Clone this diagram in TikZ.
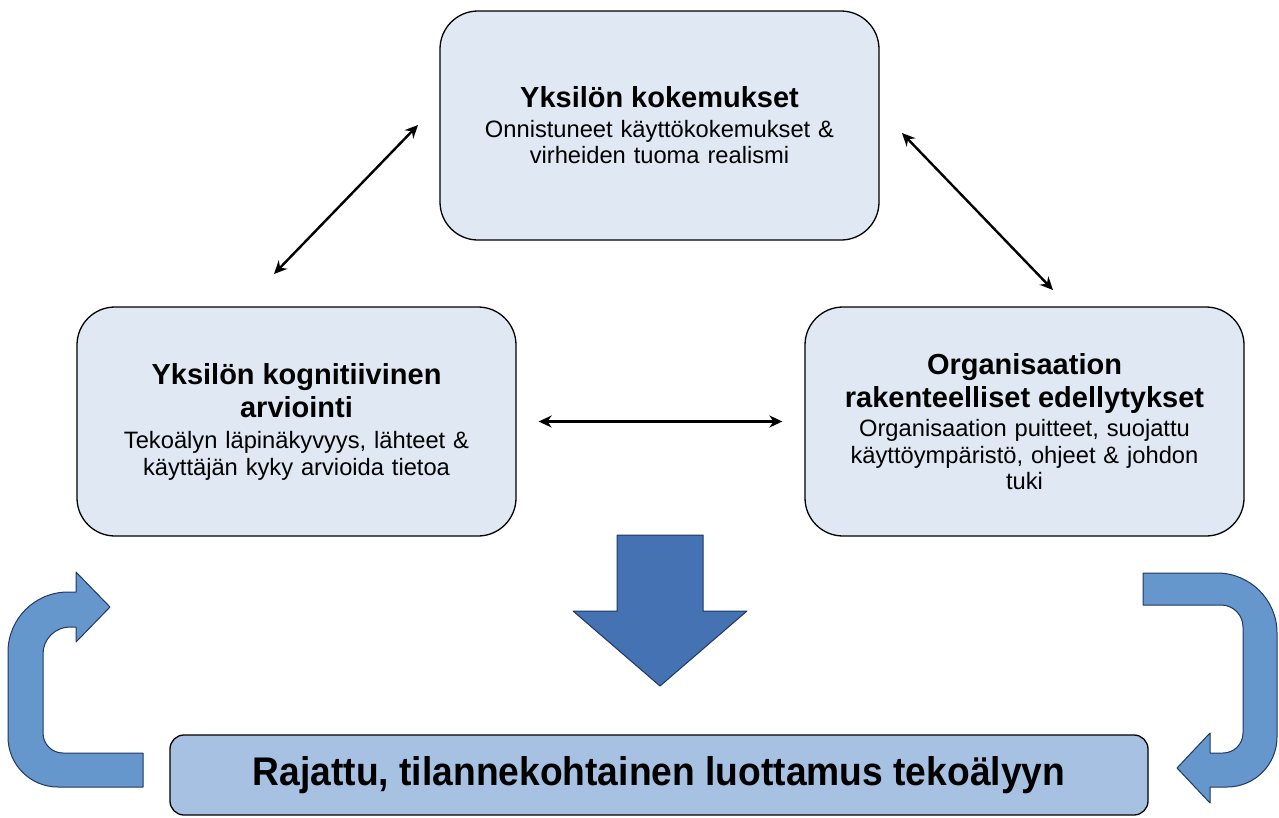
\documentclass[tikz,border=0pt]{standalone}
\usepackage{fontspec}
\setmainfont{Liberation Sans}
\newfontfamily\narrowfont{Liberation Sans}[FakeStretch=0.93]
\usetikzlibrary{arrows.meta}

\definecolor{boxfill}{RGB}{223,232,243}
\definecolor{trustfill}{RGB}{166,193,226}
\definecolor{loopfill}{RGB}{101,150,204}
\definecolor{flowfill}{RGB}{68,114,178}
\definecolor{shapeline}{RGB}{31,56,100}
\newcommand{\boxtitle}{\bfseries\fontsize{29}{33}\selectfont}

\begin{document}
\begin{tikzpicture}[x=1pt,y=-1pt,
    factor/.style={draw,rounded corners=38pt,fill=boxfill,line width=1.3pt,
        minimum width=439pt,minimum height=229pt,text width=415pt,align=center,
        font=\fontsize{23.7}{26.5}\selectfont},
    result/.style={draw,rounded corners=14pt,fill=trustfill,line width=1.3pt,
        minimum width=978pt,minimum height=80pt,
        font=\narrowfont\bfseries\fontsize{40}{44}\selectfont},
    link/.style={<->,line width=2.4pt},
    loop/.style={fill=loopfill,draw=shapeline,line width=1pt,line join=round},
    >={Stealth[length=13pt,width=12pt]}
]
\useasboundingbox (0,0) rectangle (1279,817);

\node[factor] (exp) at (659.5,125.5) {{\boxtitle Yksilön kokemukset\par}\vspace{3pt}
  Onnistuneet käyttökokemukset \&\\ virheiden tuoma realismi};
\node[factor] (cog) at (296.5,421.5) {{\boxtitle Yksilön kognitiivinen\\ arviointi\par}\vspace{5pt}
  Tekoälyn läpinäkyvyys, lähteet \&\\ käyttäjän kyky arvioida tietoa};
\node[factor] (org) at (1024.5,421.5) {{\boxtitle Organisaation\\ rakenteelliset edellytykset\par}\vspace{3pt}
  Organisaation puitteet, suojattu\\ käyttöympäristö, ohjeet \& johdon\\ tuki};
\node[result] (trust) at (659,775) {Rajattu, tilannekohtainen luottamus tekoälyyn};

% links between the factors
\coordinate (cogtip) at (274,274);
\coordinate (exptipl) at (418,125);
\coordinate (exptipr) at (902,133);
\coordinate (orgtip) at (1053,290);
\draw[link] (cogtip) -- (exptipl);
\draw[link] (exptipr) -- (orgtip);
\draw[link,shorten <=22pt,shorten >=22pt] (cog.east) -- (org.west);

% big arrow down to the result
\draw[fill=flowfill,draw=shapeline,line width=1pt,line join=round]
  (617,535) -- (703,535) -- (703,611) -- (747,611) -- (660,686)
  -- (573,611) -- (617,611) -- cycle;

% feedback loops
\draw[loop] (143,787) -- (58,787) arc[start angle=90,end angle=180,radius=50]
  -- (8,652) arc[start angle=180,end angle=270,radius=60]
  -- (76,592) -- (76,572) -- (110,607) -- (76,642) -- (76,627) -- (70,627)
  arc[start angle=270,end angle=180,radius=27]
  -- (43,733) arc[start angle=180,end angle=90,radius=20]
  -- (143,753) -- cycle;
\draw[loop] (1143,573) -- (1217,573) arc[start angle=270,end angle=360,radius=60]
  -- (1277,737) arc[start angle=0,end angle=90,radius=50]
  -- (1210,787) -- (1210,803) -- (1177,768) -- (1210,733) -- (1210,753) -- (1223,753)
  arc[start angle=90,end angle=0,radius=20]
  -- (1243,627) arc[start angle=0,end angle=-90,radius=22]
  -- (1143,605) -- cycle;
\end{tikzpicture}
\end{document}
